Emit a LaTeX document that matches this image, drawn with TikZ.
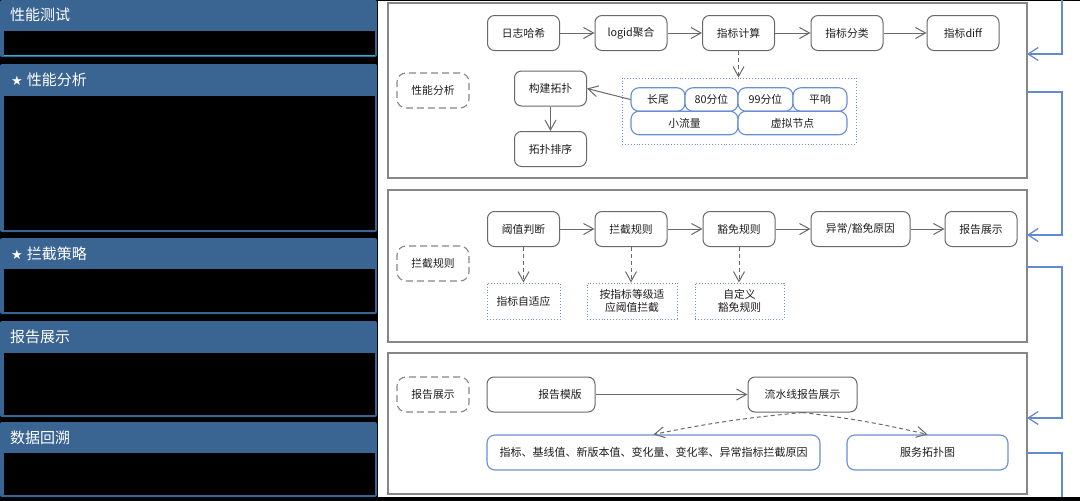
\documentclass[tikz,border=0pt]{standalone}
\usepackage{fontspec}
\setmainfont{Noto Sans CJK SC}
\newfontfamily\symfont{DejaVu Sans}
\usetikzlibrary{arrows.meta,calc}
\definecolor{hdr}{RGB}{58,100,146}
\definecolor{nodegray}{RGB}{105,105,105}
\definecolor{boxgray}{RGB}{135,135,135}
\definecolor{lblue}{RGB}{105,142,215}
\definecolor{cblue}{RGB}{100,138,212}
\definecolor{txt}{RGB}{30,30,30}
\definecolor{cyanl}{RGB}{40,180,200}
\begin{document}
\begin{tikzpicture}[x=1pt,y=-1pt,
  panel/.style={fill=hdr, rounded corners=2pt},
  ptitle/.style={anchor=west, text=white, font=\fontsize{15}{18}\selectfont, inner sep=0pt},
  bigbox/.style={draw=boxgray, line width=1.3pt, fill=white, inner sep=0pt},
  proc/.style={draw=nodegray, line width=1pt, rounded corners=7pt, minimum width=72pt, minimum height=35pt, inner sep=1pt, font=\fontsize{10.8}{12}\selectfont, text=txt, fill=white},
  lbl/.style={draw=nodegray!80, line width=1.1pt, dash pattern=on 7pt off 4pt, rounded corners=9pt, minimum width=72pt, minimum height=35pt, inner sep=1pt, font=\fontsize{10.8}{12}\selectfont, text=txt},
  bnode/.style={draw=lblue, line width=1.1pt, rounded corners=8pt, minimum height=23.5pt, inner sep=0pt, font=\fontsize{10.8}{12}\selectfont, text=txt, fill=white},
  bproc/.style={draw=lblue, line width=1.1pt, rounded corners=8pt, minimum height=35pt, inner sep=1pt, font=\fontsize{11}{13}\selectfont, text=txt, fill=white},
  dbox/.style={draw=lblue, line width=0.9pt, dotted, minimum height=36pt, inner sep=1pt, align=center, font=\fontsize{10.8}{13}\selectfont, text=txt},
  arr/.style={draw=nodegray, line width=1pt, -{Straight Barb[length=10pt,width=11pt]}},
  darr/.style={arr, dash pattern=on 4pt off 3pt},
  carr/.style={draw=cblue, line width=1.3pt, -{Straight Barb[length=10pt,width=13pt]}},
  cline/.style={draw=cblue, line width=1.3pt}
]
\useasboundingbox (0,0) rectangle (1080,501);
\fill[black] (0,0) rectangle (1080,501);
\fill[white] (378,1) rectangle (1080,497);

% ---------- left panels ----------
\fill[panel] (0,0) rectangle (377,57);
\fill[black] (4,31) rectangle (375,55);
\draw[cyanl, line width=1.2pt] (4,55.5) -- (375,55.5);
\node[ptitle] (t1) at (10,15) {性能测试};

\fill[panel] (0,64) rectangle (377,232);
\fill[black] (4,96) rectangle (375,230);
\node[ptitle] (t2) at (11,80) {{\symfont\fontsize{13}{14}\selectfont ★}\hspace{4pt}性能分析};

\fill[panel] (0,238) rectangle (377,314);
\fill[black] (4,269) rectangle (375,312);
\node[ptitle] (t3) at (11,254) {{\symfont\fontsize{13}{14}\selectfont ★}\hspace{4pt}拦截策略};

\fill[panel] (0,321) rectangle (377,417);
\fill[black] (4,353) rectangle (375,415);
\node[ptitle] (t4) at (10,337) {报告展示};

\fill[panel] (0,422) rectangle (377,497);
\fill[black] (4,453) rectangle (375,495);
\node[ptitle] (t5) at (10,438) {数据回溯};

% ---------- box 1 ----------
\node[bigbox, minimum width=639pt, minimum height=175pt] (B1) at (707.5,90.5) {};
\node[lbl] (L1) at (433,90.5) {性能分析};
\node[proc] (n1) at (523.5,33) {日志哈希};
\node[proc] (n2) at (631,33) {logid聚合};
\node[proc] (n3) at (738.5,33) {指标计算};
\node[proc] (n4) at (847,33) {指标分类};
\node[proc] (n5) at (963,33) {指标diff};
\node[proc] (g1) at (550.5,88.5) {构建拓扑};
\node[proc] (g2) at (550.5,149) {拓扑排序};
\node[draw=lblue, line width=0.9pt, dotted, minimum width=234pt, minimum height=66pt, inner sep=0pt] (grp) at (739,111) {};
\node[bnode, minimum width=54pt] (m1) at (658,99.5) {长尾};
\node[bnode, minimum width=53pt] (m2) at (711.5,99.5) {80分位};
\node[bnode, minimum width=55pt] (m3) at (765.5,99.5) {99分位};
\node[bnode, minimum width=54pt] (m4) at (820,99.5) {平响};
\node[bnode, minimum width=107pt] (m5) at (684.5,123) {小流量};
\node[bnode, minimum width=109pt] (m6) at (792.5,123) {虚拟节点};
\draw[arr] (n1) -- (n2);
\draw[arr] (n2) -- (n3);
\draw[arr] (n3) -- (n4);
\draw[arr] (n4) -- (n5);
\draw[darr] (n3.south) -- (n3.south |- grp.north);
\draw[arr] (m1.west) -- (g1.east);
\draw[arr] (g1) -- (g2);

% ---------- box 2 ----------
\node[bigbox, minimum width=639pt, minimum height=152pt] (B2) at (707.5,266) {};
\node[lbl] (L2) at (433,263.5) {拦截规则};
\node[proc] (r1) at (523.5,229) {阈值判断};
\node[proc] (r2) at (631,229) {拦截规则};
\node[proc] (r3) at (739,229) {豁免规则};
\node[proc, minimum width=99pt] (r4) at (860.5,229) {异常/豁免原因};
\node[proc] (r5) at (981,229) {报告展示};
\node[dbox, minimum width=73pt] (d1) at (523.5,301) {指标自适应};
\node[dbox, minimum width=90pt] (d2) at (632,301) {按指标等级适\\应阈值拦截};
\node[dbox, minimum width=89pt] (d3) at (739.5,301) {自定义\\豁免规则};
\draw[arr] (r1) -- (r2);
\draw[arr] (r2) -- (r3);
\draw[arr] (r3) -- (r4);
\draw[arr] (r4) -- (r5);
\draw[darr] (r1.south) -- (r1.south |- d1.north);
\draw[darr] (r2.south) -- (r2.south |- d2.north);
\draw[darr] (r3.south) -- (r3.south |- d3.north);

% ---------- box 3 ----------
\node[bigbox, minimum width=639pt, minimum height=141pt] (B3) at (707.5,423.5) {};
\node[lbl] (L3) at (433,394.5) {报告展示};
\node[proc, minimum width=108pt] (p1) at (541,394.5) {\hspace*{38pt}报告模版};
\node[proc, minimum width=109pt] (p2) at (802.5,394.5) {流水线报告展示};
\node[bproc, minimum width=333pt] (q1) at (653.5,452.5) {指标、基线值、新版本值、变化量、变化率、异常指标拦截原因};
\node[bproc, minimum width=161pt] (q2) at (927.5,452.5) {服务拓扑图};
\draw[arr] (p1) -- (p2);
\draw[darr] (p2.south) to[bend right=3] (q1.north);
\draw[darr] (p2.south) to[bend left=3] (q2.north);

% ---------- right blue connectors ----------
\coordinate (c0) at (1062,0);
\coordinate (i1) at (1027,54);
\coordinate (o1) at (1027,92);
\coordinate (i2) at (1027,235);
\coordinate (o2) at (1027,267);
\coordinate (i3) at (1027,418);
\coordinate (o3) at (1027,453);
\coordinate (c9) at (1062,497);
\draw[carr] (c0) |- (i1);
\draw[carr] (o1) -- ++(35,0) |- (i2);
\draw[carr] (o2) -- ++(35,0) |- (i3);
\draw[cline] (o3) -| (c9);
\end{tikzpicture}
\end{document}
